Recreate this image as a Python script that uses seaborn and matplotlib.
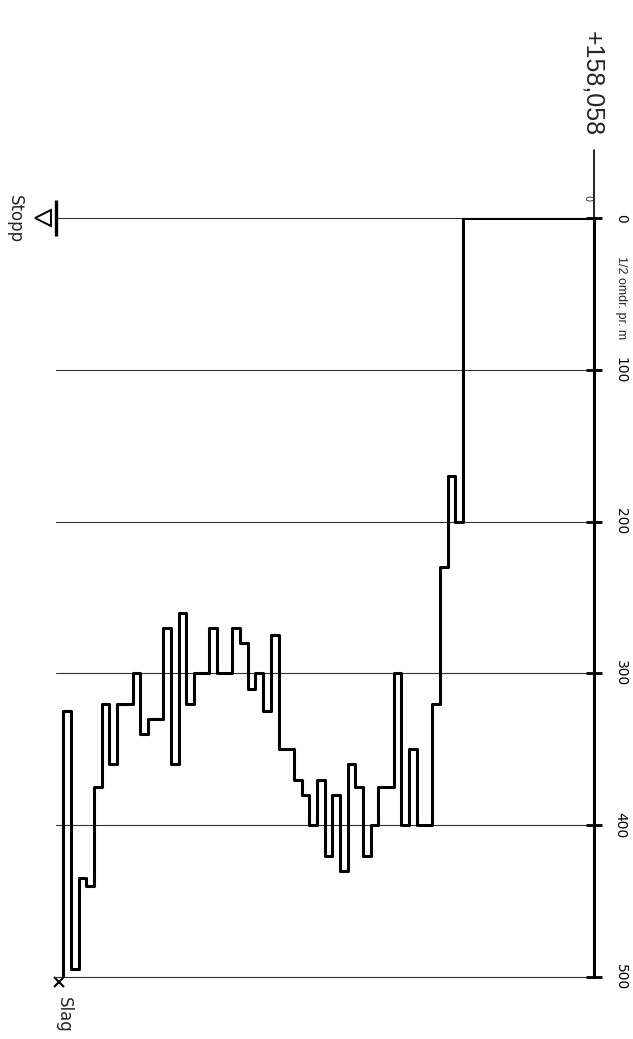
import matplotlib
matplotlib.use("Agg")
import matplotlib.pyplot as plt
import seaborn as sns

# depth (m) where each step starts, and 1/2 turns per m from that depth on
DEPTH = [0.0, 3.4, 3.6, 3.8, 4.0, 4.2, 4.6, 4.8, 5.0, 5.2, 5.6, 5.8, 6.0, 6.2,
         6.4, 6.6, 6.8, 7.0, 7.2, 7.4, 7.6, 7.8, 8.2, 8.4, 8.6, 8.8, 9.0, 9.2,
         9.4, 9.8, 10.0, 10.4, 10.6, 10.8, 11.0, 11.2, 11.6, 11.8, 12.0, 12.4,
         12.6, 12.8, 13.0, 13.2, 13.4, 13.6, 13.8]
HALF_TURNS = [0, 200, 170, 230, 320, 400, 350, 400, 300, 375, 400, 420, 375, 360,
              430, 380, 420, 370, 400, 380, 370, 350, 275, 325, 300, 310, 280, 270,
              300, 270, 300, 320, 260, 360, 270, 330, 340, 300, 320, 360,
              320, 375, 440, 435, 495, 325, 500]
TICKS = [0, 100, 200, 300, 400, 500]
ELEVATION = "+158,058"
AXIS_LABEL = "1/2 omdr. pr. m"
STOP_DEPTH = 14.0

sns.set_style("white")
plt.rcParams["font.family"] = ["DejaVu Sans"]

fig = plt.figure(figsize=(6.33, 10.39), dpi=100)
ax = fig.add_axes([0.088, 0.0597, 0.8496, 0.7305])

sns.lineplot(x=DEPTH, y=HALF_TURNS, drawstyle="steps-post", color="black",
             linewidth=2.2, ax=ax)

ax.set_xlim(STOP_DEPTH, 0)
ax.set_ylim(500, 0)
ax.set_xticks([])
ax.set_yticks(TICKS)
ax.set_yticklabels([str(t) for t in TICKS])
ax.yaxis.tick_right()
ax.tick_params(axis="y", direction="inout", length=11, width=2, pad=9,
               labelsize=10, labelrotation=-90, colors="black")
for lbl in ax.get_yticklabels():
    lbl.set_va("center")
for s in ["left", "top", "bottom"]:
    ax.spines[s].set_visible(False)
ax.spines["right"].set_linewidth(2.2)
ax.spines["right"].set_color("black")
ax.grid(axis="y", color="#333333", linewidth=0.8)
ax.grid(axis="x", visible=False)
for gl in ax.yaxis.get_gridlines():
    gl.set_clip_on(False)

# spine extension up to the elevation label, with its little zero
ax.plot([1, 1], [1, 1.09], transform=ax.transAxes, clip_on=False,
        color="black", linewidth=1.2)
ax.text(0.988, 1.026, "0", transform=ax.transAxes, rotation=-90, fontsize=7,
        ha="center", va="center")

# stop marker
ax.plot([STOP_DEPTH, STOP_DEPTH], [-12, 12], color="black", linewidth=2.4,
        clip_on=False, solid_capstyle="butt")
ax.plot(STOP_DEPTH + 0.32, 0, marker="<", markersize=11, markerfacecolor="none",
        markeredgecolor="black", markeredgewidth=1.4, clip_on=False)
# slag marker at the end of the sounding
ax.plot(DEPTH[-1] + 0.12, HALF_TURNS[-1] + 3, marker="x", markersize=7,
        markeredgewidth=1.5, color="black", clip_on=False)

fig.text(0.936, 0.9196, ELEVATION, rotation=-90, fontsize=18,
         family="Liberation Sans", ha="center", va="center")
fig.text(0.981, 0.7132, AXIS_LABEL, rotation=-90, fontsize=9,
         family="Liberation Sans", ha="center", va="center")
fig.text(0.0237, 0.7892, "Stopp", rotation=-90, fontsize=12,
         ha="center", va="center")
fig.text(0.1003, 0.0236, "Slag", rotation=-90, fontsize=12,
         ha="center", va="center")

fig.savefig("out.png", dpi=100)
